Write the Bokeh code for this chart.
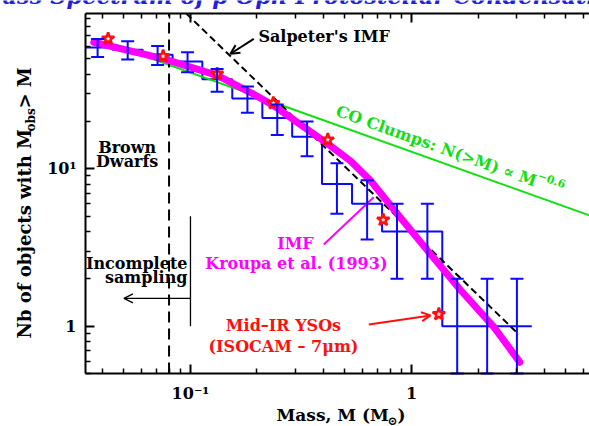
import numpy as np
from bokeh.plotting import figure
from bokeh.models import (Range1d, LogAxis, FixedTicker, Label, Arrow, OpenHead,
                          Whisker, TeeHead, ColumnDataSource,
                          CustomJSTickFormatter)
from bokeh.embed import file_html
from bokeh.resources import INLINE

# Cumulative mass spectrum N(>M) of the condensations (bin centres in Msun)
bin_mass = [0.038, 0.052, 0.071, 0.097, 0.132, 0.181, 0.247, 0.337, 0.46,
            0.63, 0.86, 1.18, 1.61, 2.2, 3.0]
bin_count = [59, 57, 53, 48, 37, 28, 21, 16, 8, 6, 4, 4, 1, 1, 1]

# Mid-IR YSOs (ISOCAM 7 micron)
yso_mass = [0.0424, 0.0752, 0.132, 0.237, 0.418, 0.745, 1.33]
yso_count = [67.0, 51.9, 40.1, 26.1, 15.3, 4.74, 1.19]

# Kroupa et al. (1993) IMF, cumulative form
kroupa_mass = [0.0365, 0.0757, 0.132, 0.187, 0.237, 0.418, 0.53, 0.652,
               0.862, 1.18, 1.67, 2.36, 3.09]
kroupa_count = [63.7, 50.0, 39.2, 30.5, 25.3, 14.4, 11.2, 8.43, 5.18, 3.03,
                1.69, 0.985, 0.59]

# Salpeter IMF, N(>M) ~ M^-1.35
salpeter_mass = [0.0957, 3.06]
salpeter_count = [97.0, 0.886]

# CO clumps, N(>M) ~ M^-0.6
co_mass = [0.0659, 6.39]
co_count = [50.4, 5.05]

BD_LIMIT = 0.08          # brown dwarf mass limit
COMPLETENESS = 0.1       # completeness limit of the sample
COMPLETE_SPAN = [1, 5]   # extent of the completeness marker
ARROW_N = 1.5
ARROW_TO = 0.05

X_MIN, X_MAX = 0.0335, 6.39
Y_MIN, Y_MAX = 0.5, 97

x_major = [0.1, 1]
x_minor = [0.04, 0.05, 0.06, 0.07, 0.08, 0.09, 0.2, 0.3, 0.4, 0.5, 0.6,
           0.7, 0.8, 0.9, 2, 3, 4, 5, 6, 7, 8, 9]
y_major = [1, 10]
y_minor = [0.5, 0.6, 0.7, 0.8, 0.9, 2, 3, 4, 5, 6, 7, 8, 9, 20, 30, 40,
           50, 60, 70, 80, 90]

FONT = "DejaVu Serif"
BLUE = "#0a0aff"
MAGENTA = "#ff00ff"
RED = "#ff1010"
GREEN = "#10e010"

# page geometry: the axes box sits inside a frame that fills the canvas,
# so that titles drawn around it are not clipped
W, H = 589, 426
BOX_LEFT, BOX_RIGHT, BOX_TOP, BOX_BOTTOM = 85, 589, 13, 373

px_x = (BOX_RIGHT - BOX_LEFT) / (np.log10(X_MAX) - np.log10(X_MIN))
px_y = (BOX_BOTTOM - BOX_TOP) / (np.log10(Y_MAX) - np.log10(Y_MIN))
x_lo = 10 ** (np.log10(X_MIN) - BOX_LEFT / px_x)
x_hi = 10 ** (np.log10(X_MAX) + (W - BOX_RIGHT) / px_x)
y_lo = 10 ** (np.log10(Y_MIN) - (H - BOX_BOTTOM) / px_y)
y_hi = 10 ** (np.log10(Y_MAX) + BOX_TOP / px_y)

p = figure(width=W, height=H, x_axis_type="log", y_axis_type="log",
           x_range=Range1d(x_lo, x_hi), y_range=Range1d(y_lo, y_hi),
           output_backend="svg", toolbar_location=None, min_border=0)
p.outline_line_color = None
p.xgrid.visible = False
p.ygrid.visible = False
p.background_fill_color = "white"
p.border_fill_color = "white"

tick_fmt = CustomJSTickFormatter(code="""
if (Math.abs(tick - 0.1) < 1e-9) return "10\u207b\u00b9";
if (Math.abs(tick - 1) < 1e-9) return "1";
if (Math.abs(tick - 10) < 1e-9) return "10\u00b9";
return "";
""")
blank_fmt = CustomJSTickFormatter(code="return '';")


def style_axis(ax, ticker, fmt, standoff, loc, bounds):
    ax.ticker = ticker
    ax.formatter = fmt
    ax.fixed_location = loc
    ax.bounds = bounds
    ax.axis_line_width = 2
    ax.axis_line_color = "black"
    ax.major_tick_line_width = 2
    ax.minor_tick_line_width = 1.5
    ax.major_tick_in = 9
    ax.major_tick_out = 0
    ax.minor_tick_in = 5
    ax.minor_tick_out = 0
    ax.major_label_text_font = FONT
    ax.major_label_text_font_style = "bold"
    ax.major_label_text_font_size = "16px"
    ax.major_label_text_color = "black"
    ax.major_label_standoff = standoff


style_axis(p.xaxis[0], FixedTicker(ticks=x_major, minor_ticks=x_minor),
           tick_fmt, 10, Y_MIN, (X_MIN, X_MAX))
style_axis(p.yaxis[0], FixedTicker(ticks=y_major, minor_ticks=y_minor),
           tick_fmt, 9, X_MIN, (Y_MIN, Y_MAX))

top = LogAxis()
style_axis(top, FixedTicker(ticks=x_major, minor_ticks=x_minor), blank_fmt, 0,
           Y_MAX, (X_MIN, X_MAX))
p.add_layout(top, "above")

# histogram of N(>M) drawn as steps
lc = np.log10(np.array(bin_mass))
mids = (lc[:-1] + lc[1:]) / 2
edges = 10 ** np.concatenate([[2 * lc[0] - mids[0]], mids,
                              [2 * lc[-1] - mids[-1]]])
edges[0] = max(edges[0], X_MIN)
counts = np.array(bin_count, dtype=float)
sx, sy = [], []
for i, c in enumerate(counts):
    sx += [edges[i], edges[i + 1]]
    sy += [c, c]
p.line(sx, sy, line_color=BLUE, line_width=2)

# Poisson error bars, lower end limited to the axis
err = ColumnDataSource(dict(
    x=bin_mass,
    upper=counts + np.sqrt(counts),
    lower=np.maximum(counts - np.sqrt(counts), Y_MIN)))
p.add_layout(Whisker(source=err, base="x", upper="upper", lower="lower",
                     dimension="height", line_color=BLUE, line_width=2,
                     level="glyph",
                     upper_head=TeeHead(size=13, line_color=BLUE, line_width=2),
                     lower_head=TeeHead(size=13, line_color=BLUE, line_width=2)))

# reference laws
p.line(co_mass, co_count, line_color=GREEN, line_width=2)
p.line(salpeter_mass, salpeter_count, line_color="black", line_width=2,
       line_dash="7 4")
p.line([BD_LIMIT, BD_LIMIT], [Y_MIN, Y_MAX], line_color="black",
       line_width=2, line_dash="11 6")
p.line([COMPLETENESS, COMPLETENESS], COMPLETE_SPAN, line_color="black",
       line_width=1.3)
p.add_layout(Arrow(end=OpenHead(size=9, line_color="black", line_width=1.3),
                   x_start=COMPLETENESS, y_start=ARROW_N, x_end=ARROW_TO,
                   y_end=ARROW_N, line_color="black", line_width=1.3))

p.line(kroupa_mass, kroupa_count, line_color=MAGENTA, line_width=7,
       line_join="round", line_cap="round")

p.scatter(yso_mass, yso_count, marker="star", size=13, line_color=RED,
          fill_color="#ffe0e0", line_width=2.5)


def lab(text, x, y, units="data", size=16, color="black", align="left",
        baseline="middle", angle=0.0, xo=0, yo=0, style="bold"):
    p.add_layout(Label(x=x, y=y, x_units=units, y_units=units, text=text,
                       text_font=FONT, text_font_size=f"{size}px",
                       text_font_style=style, text_color=color,
                       text_align=align, text_baseline=baseline, angle=angle,
                       x_offset=xo, y_offset=yo))


# title, running off the top of the page (screen y counts from the bottom)
lab("Mass Spectrum of \u03c1 Oph Protostellar Condensations", -23, H + 5,
    units="screen", size=22.5, color="#2020e0", style="bold italic")

# Salpeter annotation
lab("Salpeter's IMF", 0.203, 69.3)
p.add_layout(Arrow(end=OpenHead(size=9, line_color="black", line_width=2),
                   x_start=0.1934, y_start=67.0, x_end=0.1517, y_end=53.8,
                   line_color="black", line_width=2))

lab("Brown", 0.0517, 13.7, align="center")
lab("Dwarfs", 0.0517, 11.2, align="center")
lab("Incomplete", 0.0969, 2.49, align="right")
lab("sampling", 0.0969, 2.03, align="right")

lab("IMF", 0.2985, 3.35, color=MAGENTA, align="center")
lab("Kroupa et al. (1993)", 0.3014, 2.49, color=MAGENTA, align="center")
p.line([0.401, 0.675], [3.30, 6.6], line_color=MAGENTA, line_width=2)

lab("Mid\u2013IR YSOs", 0.2635, 1.01, color=RED, align="center")
lab("(ISOCAM \u2013 7\u03bcm)", 0.2635, 0.743, color=RED, align="center")
p.add_layout(Arrow(end=OpenHead(size=9, line_color=RED, line_width=2),
                   x_start=0.641, y_start=1.025, x_end=1.219, y_end=1.17,
                   line_color=RED, line_width=2))

# CO clumps label along the green line
ang = -0.343
lab("CO Clumps: N(>M) \u221d M", 0.458, 23.5, color=GREEN,
    baseline="alphabetic", angle=ang)
w_main, h_sup = 212, 7
lab("\u22120.6", 0.458, 23.5, size=11, color=GREEN, baseline="alphabetic",
    angle=ang, xo=w_main * np.cos(ang) - h_sup * np.sin(ang),
    yo=w_main * np.sin(ang) + h_sup * np.cos(ang))

# axis titles
lab("Mass, M (M", 276, 12, units="screen", size=17)
lab("\u2299", 387, 6, units="screen", size=12)
lab(")", 397, 12, units="screen", size=17)

half_pi = np.pi / 2
lab("Nb of objects with M", 24, 88, units="screen", size=18, angle=half_pi)
lab("obs", 30, 295, units="screen", size=12, angle=half_pi)
lab(" > M", 24, 318, units="screen", size=18, angle=half_pi)

open("out.html", "w").write(file_html(p, INLINE))
